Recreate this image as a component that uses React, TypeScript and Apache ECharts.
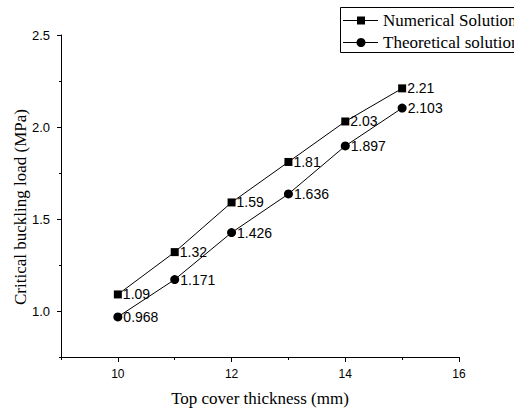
import React, { useEffect, useRef } from "react";
import * as echarts from "echarts";

const thickness = [10, 11, 12, 13, 14, 15];
const numerical = [1.09, 1.32, 1.59, 1.81, 2.03, 2.21];
const theoretical = [0.968, 1.171, 1.426, 1.636, 1.897, 2.103];
const numericalLabels = ["1.09", "1.32", "1.59", "1.81", "2.03", "2.21"];
const theoreticalLabels = ["0.968", "1.171", "1.426", "1.636", "1.897", "2.103"];
const seriesNames = ["Numerical Solution", "Theoretical solution"];
const xMajorTicks = [10, 12, 14, 16];
const xMinorTicks = [9, 11, 13, 15];
const yMajorTicks = [1.0, 1.5, 2.0, 2.5];
const yMinorTicks = [0.75, 1.25, 1.75, 2.25];
const xName = "Top cover thickness (mm)";
const yName = "Critical buckling load (MPa)";

const SERIF = "'Liberation Serif', 'Times New Roman', serif";
const SANS = "'Liberation Sans', Arial, sans-serif";

export default function App() {
  const ref = useRef<HTMLDivElement>(null);
  useEffect(() => {
    if (!ref.current) return;
    const chart = echarts.init(ref.current, undefined, { renderer: "svg" });
    const mk = (vals: number[], labels: string[]) =>
      vals.map((v, i) => ({ value: [thickness[i], v], label: { formatter: labels[i] } }));
    const legendRow = (y: number, name: string, symbol: "rect" | "circle") => [
      { type: "line", shape: { x1: 343, y1: y, x2: 378, y2: y }, style: { stroke: "#000", lineWidth: 1 } },
      symbol === "rect"
        ? { type: "rect", shape: { x: 357, y: y - 4, width: 8, height: 8 }, style: { fill: "#000" } }
        : { type: "circle", shape: { cx: 361, cy: y, r: 4.5 }, style: { fill: "#000" } },
      {
        type: "text",
        x: 383,
        y: y,
        style: {
          text: name,
          fontFamily: SERIF,
          fontSize: 17,
          fill: "#000",
          verticalAlign: "middle",
          align: "left",
        },
      },
    ];
    chart.setOption({
      animation: false,
      backgroundColor: "#fff",
      grid: { left: 61, right: 55, top: 35, bottom: 54, containLabel: false },
      graphic: [
        {
          type: "rect",
          shape: { x: 340.5, y: 7.5, width: 200, height: 45 },
          style: { fill: "#fff", stroke: "#000", lineWidth: 1 },
          z: 10,
        },
        ...legendRow(20.5, seriesNames[0], "rect").map((e) => ({ ...e, z: 11 })),
        ...legendRow(42.5, seriesNames[1], "circle").map((e) => ({ ...e, z: 11 })),
        {
          type: "text",
          x: 20,
          y: 207,
          rotation: Math.PI / 2,
          style: {
            text: yName,
            fontFamily: SERIF,
            fontSize: 17,
            fill: "#000",
            align: "center",
            verticalAlign: "middle",
          },
        },
      ],
      xAxis: [
        {
          type: "value",
          min: 9,
          max: 16,
          interval: 1,
          name: xName,
          nameLocation: "middle",
          nameGap: 33,
          nameTextStyle: { fontFamily: SERIF, fontSize: 17, color: "#000" },
          axisLine: { show: true, lineStyle: { color: "#000", width: 1 } },
          axisTick: { show: true, length: 5, customValues: xMajorTicks, lineStyle: { color: "#000" } },
          axisLabel: {
            customValues: xMajorTicks,
            margin: 11,
            fontFamily: SANS,
            fontSize: 12,
            color: "#000",
          },
          splitLine: { show: false },
        },
        {
          type: "value",
          min: 9,
          max: 16,
          interval: 1,
          position: "bottom",
          axisLine: { show: false },
          axisTick: { show: true, length: 3, customValues: xMinorTicks, lineStyle: { color: "#000" } },
          axisLabel: { show: false },
          splitLine: { show: false },
        },
      ],
      yAxis: [
        {
          type: "value",
          min: 0.75,
          max: 2.5,
          interval: 0.25,
          axisLine: { show: true, lineStyle: { color: "#000", width: 1 } },
          axisTick: { show: true, length: 4, customValues: yMajorTicks, lineStyle: { color: "#000" } },
          axisLabel: {
            customValues: yMajorTicks,
            margin: 11,
            fontFamily: SANS,
            fontSize: 13,
            color: "#000",
            formatter: (v: number) => v.toFixed(1),
          },
          splitLine: { show: false },
        },
        {
          type: "value",
          min: 0.75,
          max: 2.5,
          interval: 0.25,
          position: "left",
          axisLine: { show: false },
          axisTick: { show: true, length: 2, customValues: yMinorTicks, lineStyle: { color: "#000" } },
          axisLabel: { show: false },
          splitLine: { show: false },
        },
      ],
      series: [
        {
          name: seriesNames[0],
          type: "line",
          data: mk(numerical, numericalLabels),
          symbol: "rect",
          symbolSize: 8,
          itemStyle: { color: "#000" },
          lineStyle: { color: "#000", width: 1 },
          label: {
            show: true,
            position: "right",
            distance: 1,
            fontFamily: SANS,
            fontSize: 14,
            color: "#000",
          },
        },
        {
          name: seriesNames[1],
          type: "line",
          data: mk(theoretical, theoreticalLabels),
          symbol: "circle",
          symbolSize: 9,
          itemStyle: { color: "#000" },
          lineStyle: { color: "#000", width: 1 },
          label: {
            show: true,
            position: "right",
            distance: 1,
            fontFamily: SANS,
            fontSize: 14,
            color: "#000",
          },
        },
      ],
    });
    return () => chart.dispose();
  }, []);
  return <div ref={ref} style={{ width: 514, height: 412, position: "fixed", left: 0, top: 0 }} />;
}
